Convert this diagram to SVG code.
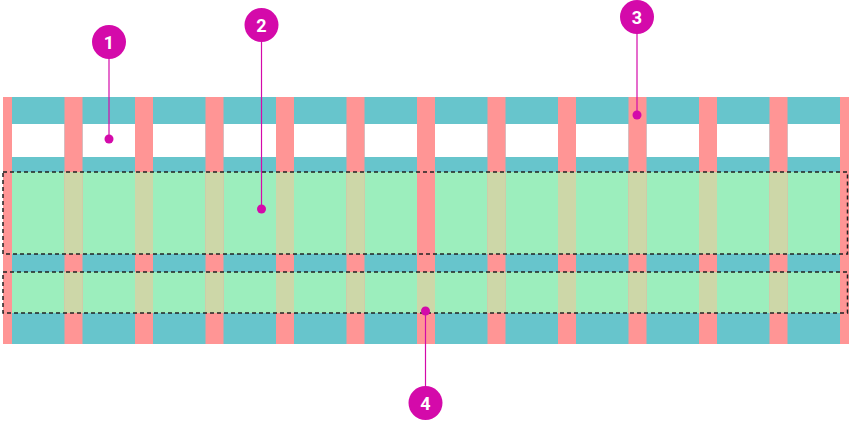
<svg xmlns="http://www.w3.org/2000/svg" width="850" height="429" viewBox="0 0 850 429">
  <style>
    .cy{fill:#67c5cc}
    .rd{fill:#ff9595}
    .gr{fill:#9ceebd}
    .tn{fill:#cdd7a8}
    .wh{fill:#ffffff}
    .dash{fill:none;stroke:#222;stroke-width:1.5;stroke-dasharray:4 3}
    .cl{stroke:#d40aaa;stroke-width:1.2;fill:none}
    .dot{fill:#d40aaa}
    .num{fill:#fff;font-family:Roboto,"Liberation Sans",sans-serif;font-weight:bold;font-size:18px;text-anchor:middle}
  </style>
  <defs>
    <g id="gutters">
      <rect x="64.5" width="18" height="247"/>
      <rect x="135" width="18" height="247"/>
      <rect x="205.5" width="18" height="247"/>
      <rect x="276" width="18" height="247"/>
      <rect x="346.5" width="18" height="247"/>
      <rect x="417" width="18" height="247"/>
      <rect x="487.5" width="18" height="247"/>
      <rect x="558" width="18" height="247"/>
      <rect x="628.5" width="18" height="247"/>
      <rect x="699" width="18" height="247"/>
      <rect x="769.5" width="18" height="247"/>
    </g>
  </defs>
  <g id="grid">
    <rect class="cy" x="3" y="97" width="846" height="247"/>
    <g class="wh">
      <rect x="12" y="124" width="52.5" height="33"/>
      <rect x="82.5" y="124" width="52.5" height="33"/>
      <rect x="153" y="124" width="52.5" height="33"/>
      <rect x="223.5" y="124" width="52.5" height="33"/>
      <rect x="294" y="124" width="52.5" height="33"/>
      <rect x="364.5" y="124" width="52.5" height="33"/>
      <rect x="435" y="124" width="52.5" height="33"/>
      <rect x="505.5" y="124" width="52.5" height="33"/>
      <rect x="576" y="124" width="52.5" height="33"/>
      <rect x="646.5" y="124" width="52.5" height="33"/>
      <rect x="717" y="124" width="52.5" height="33"/>
      <rect x="787.5" y="124" width="52.5" height="33"/>
    </g>
    <rect class="gr" x="12" y="172" width="828" height="82"/>
    <rect class="gr" x="12" y="272" width="828" height="41"/>
    <g class="rd">
      <use href="#gutters" y="97"/>
      <rect x="3" y="97" width="9" height="247"/>
      <rect x="840" y="97" width="9" height="247"/>
    </g>
    <g class="tn">
      <rect x="64.5" y="172" width="18" height="82"/>
      <rect x="135" y="172" width="18" height="82"/>
      <rect x="205.5" y="172" width="18" height="82"/>
      <rect x="276" y="172" width="18" height="82"/>
      <rect x="346.5" y="172" width="18" height="82"/>
      <rect x="487.5" y="172" width="18" height="82"/>
      <rect x="558" y="172" width="18" height="82"/>
      <rect x="628.5" y="172" width="18" height="82"/>
      <rect x="699" y="172" width="18" height="82"/>
      <rect x="769.5" y="172" width="18" height="82"/>
      <rect x="64.5" y="272" width="18" height="41"/>
      <rect x="135" y="272" width="18" height="41"/>
      <rect x="205.5" y="272" width="18" height="41"/>
      <rect x="276" y="272" width="18" height="41"/>
      <rect x="346.5" y="272" width="18" height="41"/>
      <rect x="417" y="272" width="18" height="41"/>
      <rect x="487.5" y="272" width="18" height="41"/>
      <rect x="558" y="272" width="18" height="41"/>
      <rect x="628.5" y="272" width="18" height="41"/>
      <rect x="699" y="272" width="18" height="41"/>
      <rect x="769.5" y="272" width="18" height="41"/>
    </g>
    <rect class="dash" x="3" y="172" width="844.5" height="82"/>
    <rect class="dash" x="3" y="272" width="844.5" height="41"/>
  </g>
  <g id="connectors">
    <line class="cl" x1="109" y1="50" x2="109" y2="139"/>
    <line class="cl" x1="261.5" y1="35" x2="261.5" y2="209"/>
    <line class="cl" x1="637" y1="27" x2="637" y2="115"/>
    <line class="cl" x1="425.5" y1="311" x2="425.5" y2="395"/>
  </g>
  <g id="callout-1">
    <circle class="dot" cx="109" cy="139" r="4.5"/>
    <circle class="dot" cx="109" cy="42" r="17"/>
    <text class="num" x="109" y="48.5">1</text>
  </g>
  <g id="callout-2">
    <circle class="dot" cx="261.5" cy="209" r="4.5"/>
    <circle class="dot" cx="261.5" cy="25" r="17"/>
    <text class="num" x="261.5" y="31.5">2</text>
  </g>
  <g id="callout-3">
    <circle class="dot" cx="637" cy="115" r="4.5"/>
    <circle class="dot" cx="637" cy="17" r="17"/>
    <text class="num" x="637" y="23.5">3</text>
  </g>
  <g id="callout-4">
    <circle class="dot" cx="425.5" cy="311" r="4.5"/>
    <circle class="dot" cx="425.5" cy="403" r="17"/>
    <text class="num" x="425.5" y="409.5">4</text>
  </g>
</svg>
